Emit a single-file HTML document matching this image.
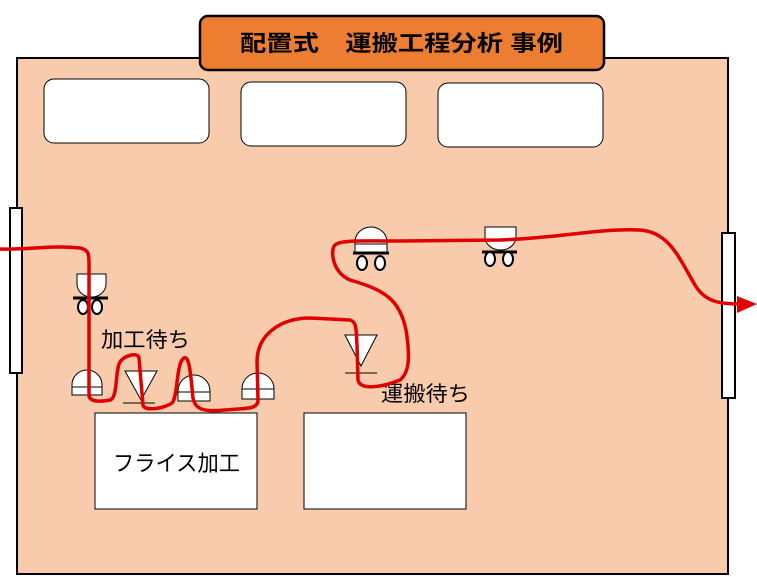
<!DOCTYPE html>
<html><head><meta charset="utf-8"><style>html,body{margin:0;padding:0;background:#fff}svg{display:block}</style></head>
<body>
<svg width="757" height="577" viewBox="0 0 757 577" xmlns="http://www.w3.org/2000/svg" font-family="'Liberation Sans','Noto Sans CJK JP',sans-serif">
<rect x="17" y="58" width="711" height="516" fill="#f8cbad" stroke="#000" stroke-width="2"/>
<rect x="200" y="16" width="404" height="54" rx="8" fill="#ed7d31" stroke="#000" stroke-width="2.5"/>
<text x="240" y="51" font-size="22" font-weight="bold" textLength="323" lengthAdjust="spacingAndGlyphs">配置式　運搬工程分析 事例</text>
<g fill="#fff" stroke="#000" stroke-width="1">
<rect x="44" y="79" width="165" height="64" rx="10"/>
<rect x="241" y="82" width="165" height="64" rx="10"/>
<rect x="438" y="83" width="165" height="64" rx="10"/>
<rect x="95" y="413" width="162" height="96"/>
<rect x="304" y="413" width="162" height="96"/>
</g>
<rect x="10" y="208" width="12" height="165" fill="#fff" stroke="#000" stroke-width="2"/>
<rect x="722" y="233" width="13" height="165" fill="#fff" stroke="#000" stroke-width="2"/>
<text x="113" y="471" font-size="22" textLength="127" lengthAdjust="spacingAndGlyphs">フライス加工</text>
<text x="101" y="347" font-size="21" textLength="89" lengthAdjust="spacingAndGlyphs">加工待ち</text>
<text x="381" y="401" font-size="21" textLength="89" lengthAdjust="spacingAndGlyphs">運搬待ち</text>
<g fill="#fff" stroke="#000" stroke-width="1">
<path d="M72,395 V385 A15,15 0 0 1 102,385 V395 Z"/><line x1="72" y1="387" x2="102" y2="387"/>
<path d="M178,401 V391 A16,16 0 0 1 210,391 V401 Z"/><line x1="178" y1="392" x2="210" y2="392"/>
<path d="M242,399 V389 A16,16 0 0 1 274,389 V399 Z"/><line x1="242" y1="389" x2="274" y2="389"/>
<path d="M125,371 H157 L141,400 Z"/><line x1="123" y1="403" x2="155" y2="403"/>
<path d="M345,335 H377 L361,366 Z"/><line x1="345" y1="373" x2="377" y2="373"/>
<path d="M77,274 H106 V284 A14.5,13 0 0 1 77,284 Z"/>
<path d="M355,252 V242 A16,15 0 0 1 387,242 V252 Z"/><line x1="355" y1="244" x2="387" y2="244"/>
<path d="M485,227 H516 V237 A15.5,13 0 0 1 485,237 Z"/>
</g>
<g stroke="#000" stroke-width="3" fill="none">
<line x1="73" y1="298" x2="108" y2="298"/>
<line x1="353" y1="253" x2="389" y2="253"/>
<line x1="482" y1="252" x2="517" y2="252"/>
</g>
<g fill="#fff" stroke="#000" stroke-width="2">
<ellipse cx="83" cy="307" rx="5" ry="7"/><ellipse cx="97" cy="307" rx="5" ry="7"/>
<ellipse cx="362" cy="263" rx="5" ry="7"/><ellipse cx="380" cy="263" rx="5" ry="7"/>
<ellipse cx="490" cy="259" rx="5" ry="7"/><ellipse cx="508" cy="259" rx="5" ry="7"/>
</g>
<path d="M0,249 C30,250 50,245 80,248 C90,250 89,255 89,270 L89,395 C89,402 100,402 110,400 C118,398 115,370 120,362 C125,355 138,352 139,358 L143,405 C145,412 165,408 172,403 C178,398 176,362 184,358 C190,355 191,380 193,398 C195,410 205,412 225,410 C245,408 258,410 258,400 L257,360 C258,335 280,318 310,318 L350,320 C357,322 356,330 357,345 L358,380 C360,390 380,388 400,380 C410,372 410,355 406,330 C400,300 385,290 350,280 C332,272 330,250 335,245 C340,240 360,241 400,241 L500,240 C560,238 600,228 640,230 C670,232 680,260 695,285 C705,302 720,304 740,304" fill="none" stroke="#e00000" stroke-width="3.5" stroke-linecap="round" stroke-linejoin="round"/>
<path d="M737,296 L757,304 L737,313 Z" fill="#e00000"/>
</svg>
</body></html>
